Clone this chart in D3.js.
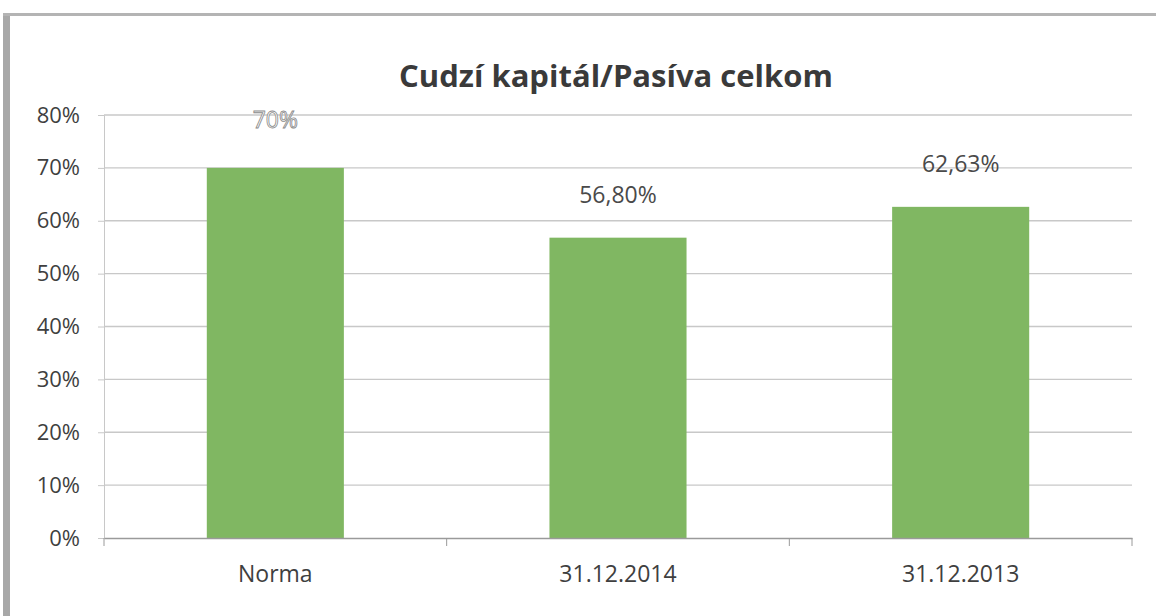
<!DOCTYPE html>
<html>
<head>
<meta charset="utf-8">
<script src="https://cdn.jsdelivr.net/npm/d3@7"></script>
<style>
  body { margin: 0; background: #fff; }
  svg { display: block; }
</style>
</head>
<body>
<svg id="chart" width="1156" height="616"></svg>
<script>
// data
const categories = ['Norma', '31.12.2014', '31.12.2013'];
const values = [0.70, 0.568, 0.6263];
const valueLabels = ['70%', '56,80%', '62,63%'];
const yTicks = [0, 0.1, 0.2, 0.3, 0.4, 0.5, 0.6, 0.7, 0.8];

const svg = d3.select('#chart');
const font = '"Open Sans", "Noto Sans", sans-serif';

// scanned frame
svg.append('rect').attr('x', 0).attr('y', 0).attr('width', 1156).attr('height', 616).attr('fill', '#fff');
svg.append('rect').attr('x', 3).attr('y', 13).attr('width', 7).attr('height', 603).attr('fill', '#a8a8a8');
svg.append('rect').attr('x', 3).attr('y', 13).attr('width', 1153).attr('height', 3).attr('fill', '#b4b4b4');

const plot = {left: 104, right: 1132, top: 115, bottom: 538};

const x = d3.scaleBand().domain(categories).range([plot.left, plot.right]).paddingInner(0.6).paddingOuter(0.3);
const y = d3.scaleLinear().domain([0, 0.8]).range([plot.bottom, plot.top]);

// title
svg.append('text')
  .attr('x', 616).attr('y', 87)
  .attr('text-anchor', 'middle')
  .attr('font-family', font).attr('font-weight', 700).attr('font-size', 31)
  .attr('fill', '#3a3a3a')
  .text('Cudzí kapitál/Pasíva celkom');

// gridlines
svg.append('g')
  .selectAll('line').data(yTicks.filter(d => d > 0)).join('line')
  .attr('x1', plot.left).attr('x2', plot.right)
  .attr('y1', d => y(d)).attr('y2', d => y(d))
  .attr('stroke', '#c8c8c8').attr('stroke-width', 1.3);

// y axis
const yAxis = svg.append('g')
  .attr('transform', `translate(${plot.left},0)`)
  .call(d3.axisLeft(y).tickValues(yTicks).tickFormat(d3.format('.0%')).tickSize(6).tickPadding(18));
yAxis.select('.domain').attr('stroke', '#c8c8c8');
yAxis.selectAll('.tick line').attr('stroke', '#c8c8c8');
yAxis.selectAll('text')
  .attr('font-family', font).attr('font-size', 22).attr('fill', '#3f3f3f');

// bars
svg.append('g')
  .selectAll('rect').data(values).join('rect')
  .attr('x', (d, i) => x(categories[i]))
  .attr('width', x.bandwidth())
  .attr('y', d => y(d))
  .attr('height', d => y(0) - y(d))
  .attr('fill', '#80b762');

// x axis
const xAxis = svg.append('g')
  .attr('transform', `translate(0,${plot.bottom})`)
  .call(d3.axisBottom(x).tickSize(0).tickPadding(28));
xAxis.select('.domain').attr('stroke', '#9a9a9a').attr('stroke-width', 1.5);
xAxis.selectAll('text')
  .attr('font-family', font).attr('font-size', 23).attr('fill', '#3f3f3f');

// category boundary ticks
const bounds = d3.range(categories.length + 1).map(i => plot.left + i * (plot.right - plot.left) / categories.length);
svg.append('g')
  .selectAll('line').data(bounds).join('line')
  .attr('x1', d => d).attr('x2', d => d)
  .attr('y1', plot.bottom).attr('y2', plot.bottom + 8)
  .attr('stroke', '#9a9a9a');

// value labels
svg.append('g')
  .selectAll('text').data(values).join('text')
  .attr('x', (d, i) => x(categories[i]) + x.bandwidth() / 2)
  .attr('y', (d, i) => y(d) - (i === 0 ? 40 : 35))
  .attr('text-anchor', 'middle')
  .attr('font-family', font).attr('font-size', 23)
  .attr('fill', (d, i) => i === 0 ? '#fff' : '#4a4a4a')
  .attr('stroke', (d, i) => i === 0 ? '#8a8a8a' : 'none')
  .attr('stroke-width', 0.8)
  .text((d, i) => valueLabels[i]);
</script>
</body>
</html>
